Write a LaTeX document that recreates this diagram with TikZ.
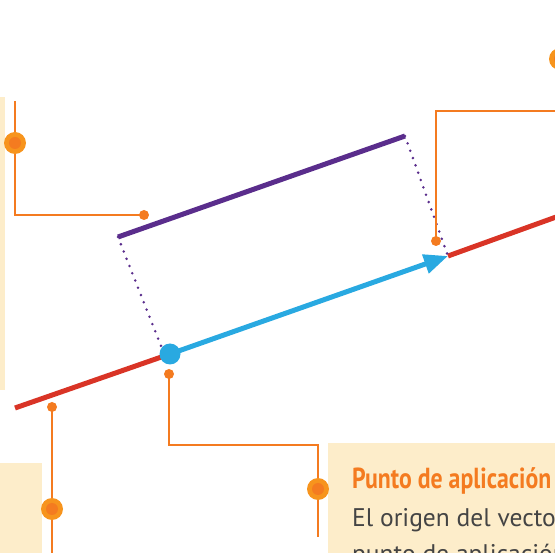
\documentclass[tikz,border=0pt]{standalone}
\usepackage{fontspec}
\setmainfont{PT Sans}
\newfontfamily\headfont[FakeStretch=0.82]{PT Sans}
\usetikzlibrary{arrows.meta}
\definecolor{cream}{HTML}{FDEDCA}
\definecolor{callout}{HTML}{F47B20}
\definecolor{calloutlight}{HTML}{F7941D}
\definecolor{redline}{HTML}{D93426}
\definecolor{purpleline}{HTML}{5A2D8C}
\definecolor{blueline}{HTML}{29A9E1}
\definecolor{textgray}{HTML}{444444}
\tikzset{
  panel/.style={fill=cream, draw=none},
  leader/.style={draw=callout, line width=2.4pt},
  enddot/.style={circle, fill=callout, inner sep=0pt, minimum size=10pt},
  bigdot/.style={circle, fill=calloutlight, inner sep=0pt, minimum size=22pt,
    path picture={\fill[callout] (path picture bounding box.center) circle (6pt);}},
  guide/.style={draw=purpleline, line width=2.8pt, line cap=round, dash pattern=on 0pt off 7.8pt},
  heading/.style={anchor=base west, inner sep=0pt, text=callout, font=\headfont\bfseries\fontsize{29}{32}\selectfont},
  body/.style={anchor=base west, inner sep=0pt, text=textgray, font=\fontsize{25.5}{30}\selectfont}
}
\begin{document}
\begin{tikzpicture}[x=1pt, y=-1pt]
\useasboundingbox (0,0) rectangle (555,553);
\clip (0,0) rectangle (555,553);
% panels
\fill[panel] (0,97) rectangle (5,390);
\fill[panel] (0,463) rectangle (42,560);
\fill[panel] (328,443) rectangle (560,560);
% main geometry
\coordinate (rA) at (15,408);
\coordinate (rB) at (570,212);
\coordinate (pA) at (118,237);
\coordinate (pB) at (405,136);
\coordinate (vA) at (170,354);
\coordinate (vB) at (448,256);
\draw[redline, line width=5pt] (rA) -- (vA);
\draw[redline, line width=5pt] (vB) -- (rB);
\draw[purpleline, line width=5pt] (pA) -- (pB);
\draw[guide] (pA) -- (163,351);
\draw[guide] (pB) -- (vB);
\draw[blueline, line width=5pt, -{Triangle[length=24pt,width=19pt]}] (vA) -- (vB);
\node[circle, fill=blueline, inner sep=0pt, minimum size=21pt] (origin) at (vA) {};
% callout 1 (left)
\coordinate (c1top) at (15,101);
\coordinate (c1corner) at (15,215);
\node[enddot] (c1end) at (144,215) {};
\draw[leader] (c1top) -- (c1corner) -- (c1end.center);
\node[bigdot] (c1) at (15,143) {};
% callout 2 (right)
\node[enddot] (c2end) at (436,241) {};
\coordinate (c2corner) at (436,111);
\coordinate (c2right) at (560,111);
\draw[leader] (c2end.center) -- (c2corner) -- (c2right);
\node[bigdot] (c2) at (560,59) {};
% callout 3 (bottom left)
\node[enddot] (c3end) at (52,407) {};
\coordinate (c3bot) at (52,560);
\draw[leader] (c3end.center) -- (c3bot);
\node[bigdot] (c3) at (52,509) {};
% callout 4 (bottom middle)
\node[enddot] (c4end) at (169,374) {};
\coordinate (c4a) at (169,445);
\coordinate (c4b) at (318,445);
\coordinate (c4c) at (318,537);
\draw[leader] (c4end.center) -- (c4a) -- (c4b) -- (c4c);
\node[bigdot] (c4) at (318,489) {};
% text
\node[heading] (title) at (352,489) {Punto de aplicación};
\node[body] (line1) at (352,527) {El origen del vector};
\node[body] (line2) at (352,563) {punto de aplicación};
\end{tikzpicture}
\end{document}
